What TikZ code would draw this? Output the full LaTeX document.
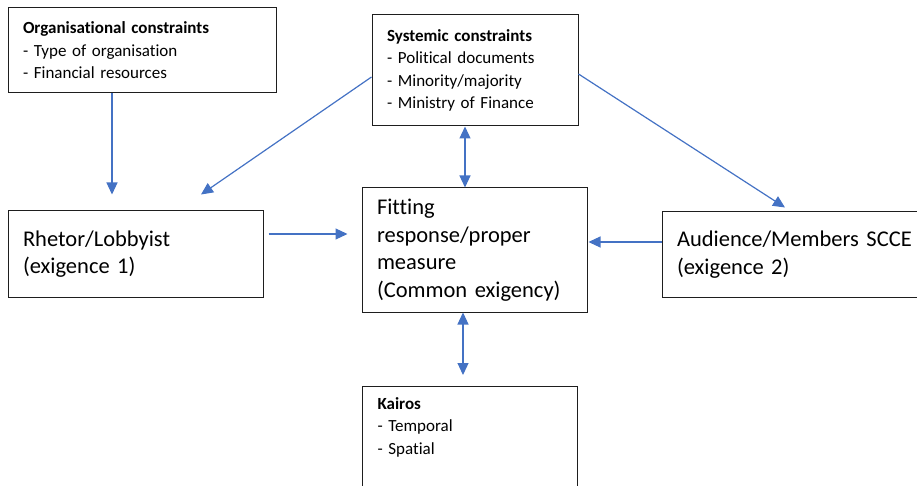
\documentclass[tikz,border=0pt]{standalone}
\usepackage{fontspec}
\setmainfont{Carlito}[Ligatures=CommonOff]
\usepackage{xcolor}
\usetikzlibrary{arrows.meta,positioning,calc}

\definecolor{arrowblue}{RGB}{68,114,196}
\definecolor{boxline}{RGB}{30,30,30}

\begin{document}
\begin{tikzpicture}[
        x=1pt, y=-1pt,
        box/.style={
            draw=boxline,
            line width=1pt,
            align=left,
            inner xsep=15pt,
            inner ysep=4pt
        },
        smalltext/.style={font=\fontsize{17}{22.5}\selectfont},
        largetext/.style={font=\fontsize{22.5}{27.5}\selectfont},
        flow/.style={draw=arrowblue, line width=1.2pt, -{Triangle[length=12pt,width=11pt]}},
        twoway/.style={draw=arrowblue, line width=1.2pt, {Triangle[length=12pt,width=11pt]}-{Triangle[length=12pt,width=11pt]}}
    ]

    \useasboundingbox (0,0) rectangle (917,486);

    \node[box, smalltext, text width=238pt, minimum width=268pt, minimum height=85pt] (org) at (142,50.5)
        {\textbf{Organisational constraints}\\- Type of organisation\\- Financial resources};
    \node[box, smalltext, text width=176pt, minimum width=206pt, minimum height=111pt] (sys) at (475,70.5)
        {\textbf{Systemic constraints}\\- Political documents\\- Minority/majority\\- Ministry of Finance};
    \node[box, largetext, text width=225pt, minimum width=255pt, minimum height=86pt] (rhetor) at (135.5,254)
        {Rhetor/Lobbyist\\(exigence 1)};
    \node[box, largetext, text width=195pt, minimum width=225pt, minimum height=124pt] (fit) at (474.5,250)
        {Fitting\\response/proper\\measure\\(Common exigency)};
    \node[box, largetext, text width=250pt, minimum width=280pt, minimum height=85pt] (aud) at (802,254.5)
        {Audience/Members SCCE\\(exigence 2)};
    \node[box, smalltext, anchor=north west, text width=185pt, inner ysep=11pt, text depth=100pt] (kairos) at (362,386)
        {\textbf{Kairos}\\- Temporal\\- Spatial};

    \draw[flow] ([xshift=-30pt]org.south) -- ([xshift=-23.5pt,yshift=16pt]rhetor.north);
    \draw[flow] ([yshift=-6.5pt]sys.west) -- ([xshift=65.5pt,yshift=16pt]rhetor.north);
    \draw[flow] ([yshift=-3.5pt]sys.east) -- ([xshift=-17pt,yshift=4pt]aud.north);
    \draw[twoway] ([xshift=-10pt]sys.south) -- ([xshift=-10pt]sys.south |- fit.north);
    \draw[twoway, shorten >=11pt] ([xshift=-11.5pt]fit.south) -- ([xshift=-11.5pt]fit.south |- kairos.north);
    \draw[flow] ([xshift=5pt,yshift=20pt]rhetor.east) -- ([xshift=-14pt,yshift=16pt]fit.west);
    \draw[flow] ([yshift=12.5pt]aud.west) -- ([xshift=1pt,yshift=8pt]fit.east);

\end{tikzpicture}
\end{document}
